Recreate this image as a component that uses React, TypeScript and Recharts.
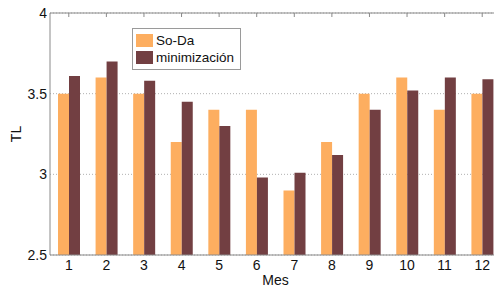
import React from 'react';
import { BarChart, Bar, XAxis, YAxis, CartesianGrid, Legend, Label } from 'recharts';

const months = ['1', '2', '3', '4', '5', '6', '7', '8', '9', '10', '11', '12'];
const soDa = [3.5, 3.6, 3.5, 3.2, 3.4, 3.4, 2.9, 3.2, 3.5, 3.6, 3.4, 3.5];
const minimizacion = [3.61, 3.7, 3.58, 3.45, 3.3, 2.98, 3.01, 3.12, 3.4, 3.52, 3.6, 3.59];
const yTicks = [2.5, 3, 3.5, 4];

const ORANGE = '#FDAE60';
const BROWN = '#723F42';
const AXIS = '#8a8a8a';
const FONT = '"Liberation Sans", Arial, Helvetica, sans-serif';

const data = months.map((m, i) => ({ month: m, soDa: soDa[i], minimizacion: minimizacion[i] }));

const LegendBox = (props: any) => {
  const items = props.payload || [];
  return (
    <div
      style={{
        border: '1px solid #9a9a9a',
        background: '#fff',
        padding: '3px 4px 3px 3px',
        fontFamily: FONT,
        fontSize: 13.5,
        color: '#111',
        width: 100,
      }}
    >
      {items.map((it: any) => (
        <div key={it.value} style={{ display: 'flex', alignItems: 'center', height: 17 }}>
          <span style={{ width: 17, height: 13, background: it.color, display: 'inline-block', marginRight: 3 }} />
          <span>{it.value}</span>
        </div>
      ))}
    </div>
  );
};

// top box edge: ticks point down into the plot, no labels
const InwardTick = (props: any) => {
  const { x, y } = props;
  return <line x1={x} x2={x} y1={y} y2={y + 4} stroke={AXIS} strokeWidth={1} />;
};

export default function App() {
  return (
    <div style={{ position: 'absolute', left: 0, top: 0, width: 494, height: 287, overflow: 'hidden', background: '#fff' }}>
      <BarChart
        width={501}
        height={287}
        data={data}
        margin={{ top: 0, right: 0, bottom: 0, left: 0 }}
        barSize={11}
        barGap={0}
      >
        <CartesianGrid vertical={false} stroke="#b0b0b0" strokeDasharray="1 2" />
        <XAxis
          dataKey="month"
          height={32}
          axisLine={{ stroke: AXIS }}
          tickLine={false}
          tickSize={3}
          tickMargin={2}
          tick={{ fill: '#111', fontSize: 14, fontFamily: FONT }}
        >
          <Label value="Mes" position="insideBottom" offset={2} style={{ fill: '#111', fontSize: 14, fontFamily: FONT }} />
        </XAxis>
        <XAxis
          xAxisId="top"
          dataKey="month"
          orientation="top"
          height={13}
          interval={0}
          tick={InwardTick}
          tickSize={0}
          tickMargin={0}
          tickLine={false}
          axisLine={{ stroke: AXIS }}
        />
        <YAxis
          width={50}
          domain={[2.5, 4]}
          ticks={yTicks}
          allowDataOverflow
          axisLine={{ stroke: AXIS }}
          tickLine={false}
          tickSize={2}
          tickMargin={1}
          tick={{ fill: '#111', fontSize: 14, fontFamily: FONT }}
        >
          <Label
            value="TL"
            angle={-90}
            position="insideLeft"
            offset={16}
            style={{ textAnchor: 'middle', fill: '#111', fontSize: 14, fontFamily: FONT }}
          />
        </YAxis>
        <Legend
          layout="vertical"
          verticalAlign="middle"
          align="center"
          content={<LegendBox />}
          wrapperStyle={{ position: 'absolute', left: 132, top: 28, width: 'auto' }}
        />
        <Bar dataKey="soDa" name="So-Da" fill={ORANGE} isAnimationActive={false} />
        <Bar dataKey="minimizacion" name="minimización" fill={BROWN} isAnimationActive={false} />
      </BarChart>
    </div>
  );
}
